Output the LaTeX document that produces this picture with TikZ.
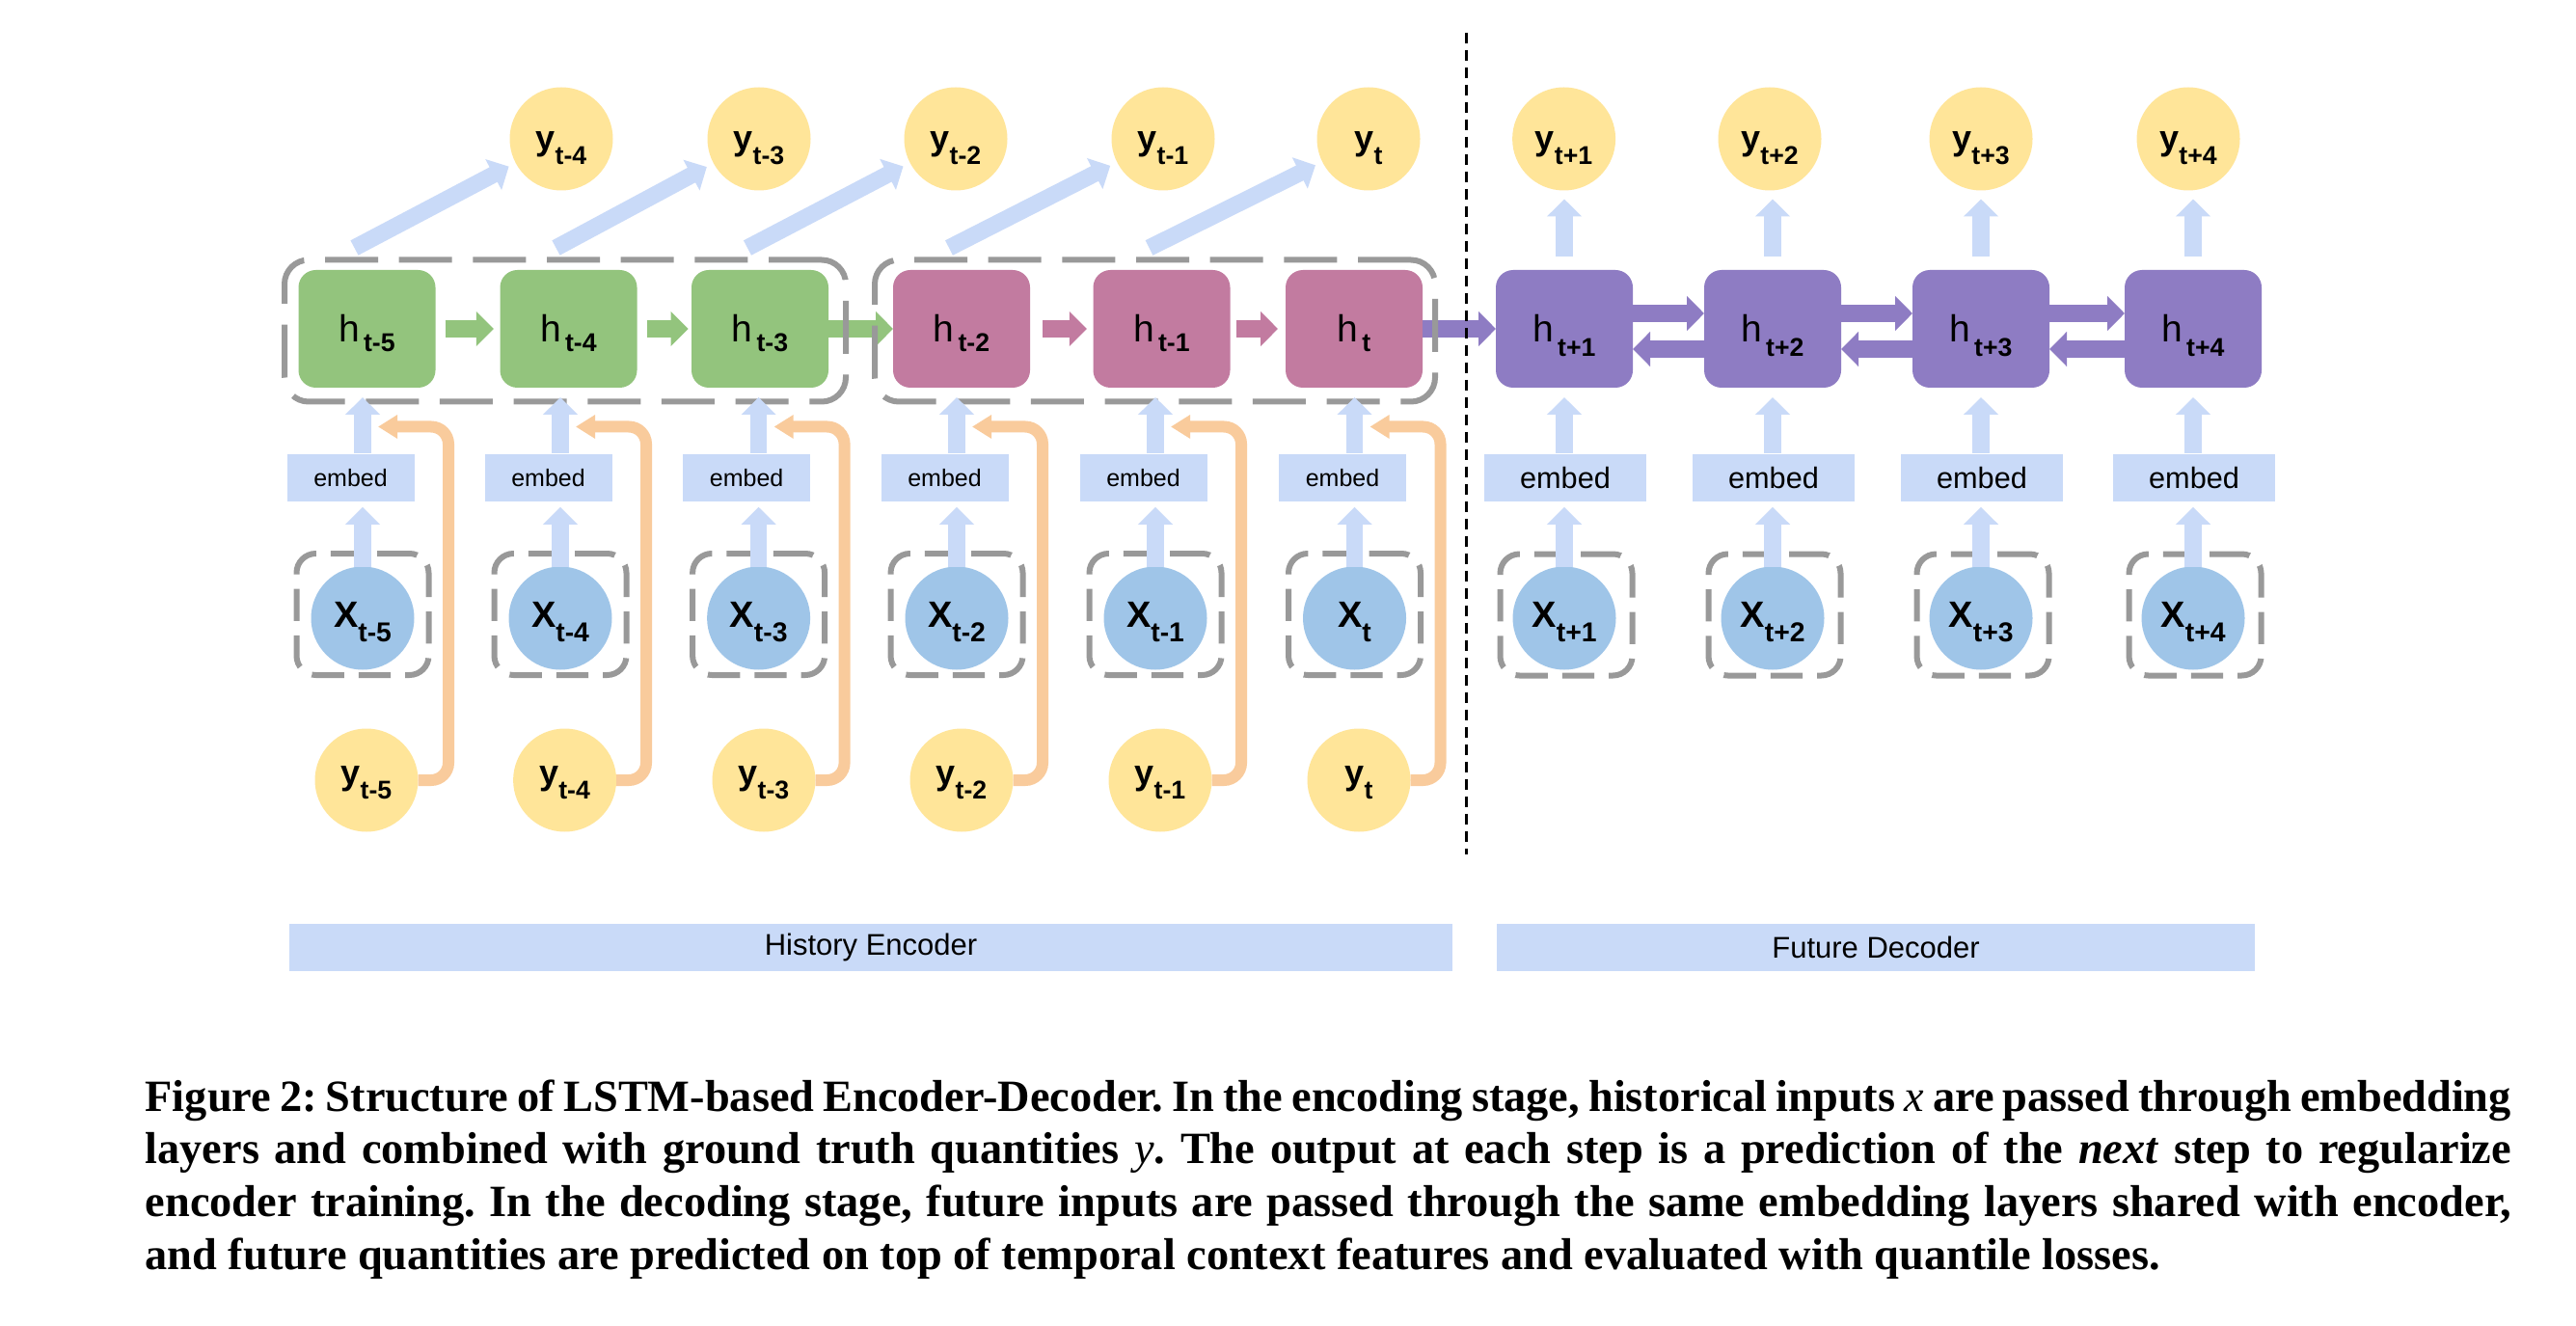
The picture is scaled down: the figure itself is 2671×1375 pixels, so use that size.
\documentclass[tikz,border=0pt]{standalone}
\usepackage{fontspec}
\setmainfont{Liberation Sans}
\newfontfamily\capfont{Liberation Serif}
\usetikzlibrary{arrows.meta,calc}
\definecolor{cgreen}{HTML}{93C47D}
\definecolor{cpink}{HTML}{C27BA0}
\definecolor{cpurple}{HTML}{8E7CC3}
\definecolor{cyellow}{HTML}{FFE599}
\definecolor{cxblue}{HTML}{9FC5E8}
\definecolor{clight}{HTML}{C9DAF8}
\definecolor{corange}{HTML}{F9CB9C}
\definecolor{cdash}{HTML}{999999}
\newcommand{\hlab}[1]{{\fontsize{11.7}{12}\selectfont h}\kern1.2pt\raisebox{-3pt}{\fontsize{8}{9}\selectfont\bfseries #1}}
\newcommand{\hlabd}[1]{{\fontsize{11.7}{12}\selectfont h}\kern1.2pt\raisebox{-4.5pt}{\fontsize{8}{9}\selectfont\bfseries #1}}
\newcommand{\ylab}[1]{{\fontsize{10.8}{12}\selectfont\bfseries y}\raisebox{-4.5pt}{\fontsize{8}{9}\selectfont\bfseries #1}}
\newcommand{\xlab}[1]{{\fontsize{11.4}{12}\selectfont\bfseries X}\raisebox{-4.5pt}{\fontsize{8.5}{9}\selectfont\bfseries #1}}
\begin{document}
\begin{tikzpicture}[x=0.3pt,y=-0.3pt,
  hbox/.style={rounded corners=5.4pt, minimum width=42.6pt, minimum height=36.6pt, inner sep=0pt, outer sep=0pt, text height=8.4pt, text depth=0pt},
  circ/.style={circle, minimum size=32.1pt, inner sep=0pt, outer sep=0pt},
  ytop/.style={circ, fill=cyellow, text height=7.2pt, text depth=0pt},
  ybot/.style={circ, fill=cyellow, text height=2.4pt, text depth=0pt},
  xcirc/.style={circ, fill=cxblue, text height=5.4pt, text depth=0pt},
  xdash/.style={draw=cdash, line width=1.8pt, dash pattern=on 10pt off 4.5pt, rounded corners=6pt, minimum width=41.1pt, minimum height=37.8pt, inner sep=0pt},
  gdash/.style={draw=cdash, line width=1.8pt, dash pattern=on 16.5pt off 6.5pt, rounded corners=7.5pt, minimum height=44.1pt, inner sep=0pt},
  embedenc/.style={fill=clight, minimum width=39.6pt, minimum height=14.85pt, inner sep=0pt, font=\fontsize{7.5}{8}\selectfont},
  embeddec/.style={fill=clight, minimum width=50.4pt, minimum height=14.85pt, inner sep=0pt, font=\fontsize{9.2}{10}\selectfont},
  bar/.style={fill=clight, minimum height=14.7pt, inner sep=0pt, font=\fontsize{9.3}{10}\selectfont},
  blk/.style={line width=5.2pt, -{Triangle[width=10.5pt,length=5.4pt]}},
  oarr/.style={draw=corange, line width=3.6pt, rounded corners=5.4pt, -{Triangle[width=7pt,length=6pt]}},
  divider/.style={draw=black, line width=0.9pt, dash pattern=on 3.3pt off 2.1pt}
]
\fill[white] (0,0) rectangle (2671,1375);
\useasboundingbox (0,0) rectangle (2671,1375);

% encoder columns
\foreach \i/\hx/\xx/\yb/\lab/\col in {1/380.5/376/380/t-5/cgreen, 2/589.5/581/585.6/t-4/cgreen, 3/788/786.6/792/t-3/cgreen, 4/997/992/997/t-2/cpink, 5/1204.5/1198/1203/t-1/cpink, 6/1404/1404.5/1409/t/cpink}{
  \node[hbox, fill=\col] (h\i) at (\hx,341) {\hlab{\lab}};
  \node[xdash] (xb\i) at (\xx,637) {};
  \node[xcirc] (x\i) at (\xx,641) {\xlab{\lab}};
  \node[embedenc] (e\i) at ({\xx-12.5},495.4) {embed};
  \node[ybot] (yb\i) at (\yb,809) {\ylab{\lab}};
  \coordinate (oc\i) at ({\xx+89},442.5);
  \coordinate (ot\i) at ({\xx+16},442.5);
}
% decoder columns
\foreach \i/\hx/\lab in {7/1622/t+1, 8/1838/t+2, 9/2054/t+3, 10/2274/t+4}{
  \node[hbox, fill=cpurple] (h\i) at (\hx,341) {\hlabd{\lab}};
  \node[xdash] (xb\i) at ({\hx+2},637.5) {};
  \node[xcirc] (x\i) at (\hx,641) {\xlab{\lab}};
  \node[embeddec] (e\i) at ({\hx+1},495.4) {embed};
}
% top outputs
\foreach \i/\x/\lab in {2/582/t-4, 3/787/t-3, 4/991/t-2, 5/1206/t-1, 6/1419/t, 7/1621.6/t+1, 8/1835/t+2, 9/2054/t+3, 10/2269/t+4}
  \node[ytop] (yt\i) at (\x,144) {\ylab{\lab}};

% recurrent arrows
\draw[blk, cgreen, shorten <=3pt, shorten >=2pt] (h1) -- (h2);
\draw[blk, cgreen, shorten <=3pt, shorten >=1pt] (h2) -- (h3);
\draw[blk, cgreen] (h3) -- (h4);
\draw[blk, cpink, shorten <=4pt, shorten >=2pt] (h4) -- (h5);
\draw[blk, cpink, shorten <=2pt, shorten >=2.4pt] (h5) -- (h6);
\draw[blk, cpurple] (h6) -- (h7);
\foreach \i/\j in {7/8, 8/9, 9/10}{
  \draw[blk, cpurple] ([yshift=4.8pt]h\i.east) -- ([yshift=4.8pt]h\j.west);
  \draw[blk, cpurple] ([yshift=-6.3pt]h\j.west) -- ([yshift=-6.3pt]h\i.east);
}

% group boxes
\node[gdash, minimum width=174.6pt] (g1) at (586,343) {};
\node[gdash, minimum width=174.3pt] (g2) at (1197.5,343) {};

% diagonal prediction arrows
\foreach \i/\j in {1/2, 2/3, 3/4, 4/5, 5/6}
  \draw[blk, clight, shorten >=2.4pt] ([xshift=-3.9pt,yshift=6.9pt]h\i.north) -- (yt\j);
% decoder output arrows
\foreach \i in {7,...,10}
  \draw[blk, clight, shorten <=4.2pt, shorten >=2.7pt] (h\i.north) -- (h\i.north |- yt\i.south);
% input arrows
\foreach \i in {1,...,10}{
  \draw[blk, clight, shorten >=1.5pt] (x\i.north) -- (x\i.north |- e\i.south);
  \draw[blk, clight, shorten >=3pt] (x\i |- e\i.north) -- (x\i |- h\i.south);
}
% ground truth feedback arrows
\foreach \i in {1,...,6}
  \draw[oarr] (yb\i.east) -| (oc\i) -- (ot\i);

% divider
\coordinate (dv1) at (1520.7,34);
\coordinate (dv2) at (1520.7,886);
\draw[divider] (dv1) -- (dv2);

% stage bars
\node[bar, minimum width=361.8pt] (enc) at (903,982.5) {History Encoder};
\node[bar, minimum width=235.8pt] (dec) at (1945,982.5) {Future Decoder};

% caption
\node[anchor=north west, text width=736pt, align=justify, inner sep=0pt,
  font=\capfont\bfseries\fontsize{13.9}{16.4}\selectfont] (cap) at (150,1119)
{\frenchspacing\hyphenpenalty=10000\tolerance=10000
Figure 2: Structure of LSTM-based Encoder-Decoder. In the encoding stage, historical inputs {\mdseries\itshape x} are passed through embedding\linebreak
layers and combined with ground truth quantities {\mdseries\itshape y}. The output at each step is a prediction of the \textit{next} step to regularize\linebreak
encoder training. In the decoding stage, future inputs are passed through the same embedding layers shared with encoder,\linebreak
and future quantities are predicted on top of temporal context features and evaluated with quantile losses.};
\end{tikzpicture}
\end{document}
